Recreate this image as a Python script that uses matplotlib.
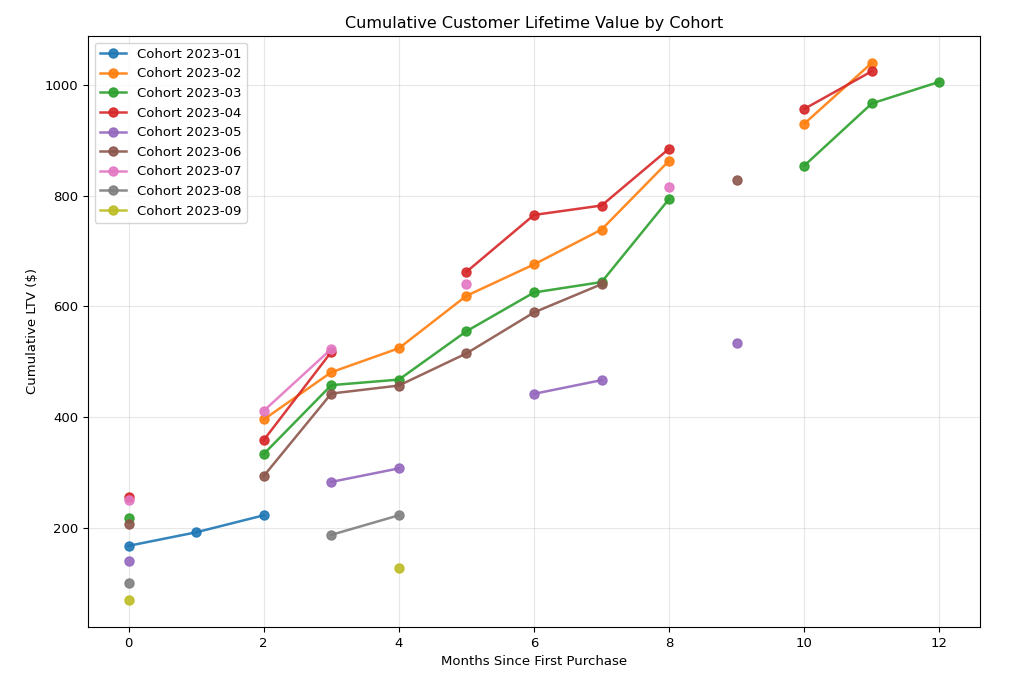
import numpy as np
import matplotlib
matplotlib.use("Agg")
import matplotlib.pyplot as plt

nan = np.nan
months = list(range(13))
cohorts = ["Cohort 2023-01", "Cohort 2023-02", "Cohort 2023-03", "Cohort 2023-04",
           "Cohort 2023-05", "Cohort 2023-06", "Cohort 2023-07", "Cohort 2023-08",
           "Cohort 2023-09"]

c01 = [167.6, 192, 222.7, nan, nan, nan, nan, nan, nan, nan, nan, nan, nan]
c02 = [nan, nan, 395.7, 481, 524.3, 619, 675.7, 738.7, 863, nan, 929.7, 1039.6, nan]
c03 = [218.6, nan, 333.3, 457.7, 467.7, 555, 625, 643.8, 793.9, nan, 854, 966.3, 1005.4]
c04 = [255, nan, 358.5, 517.7, nan, 662.3, 765, 782, 884.7, nan, 956.4, 1024.5, nan]
c05 = [140, nan, nan, 283, 307.4, nan, 442, 466.7, nan, 534.4, nan, nan, nan]
c06 = [207.7, nan, 293.7, 442.5, 457, 515, 589, 640, nan, 828.8, nan, nan, nan]
c07 = [250, nan, 411.3, 523, nan, 640, nan, nan, 816, nan, nan, nan, nan]
c08 = [101, nan, nan, 187.4, 222.7, nan, nan, nan, nan, nan, nan, nan, nan]
c09 = [69.6, nan, nan, nan, 127, nan, nan, nan, nan, nan, nan, nan, nan]
series = [c01, c02, c03, c04, c05, c06, c07, c08, c09]

fig = plt.figure(figsize=(10.24, 6.92), dpi=100)
ax = fig.add_axes([0.086, 0.094, 0.871, 0.854])
for name, vals in zip(cohorts, series):
    ax.plot(months, vals, marker="o", linewidth=1.8, markersize=6.5, alpha=0.9, label=name)

ax.set_title("Cumulative Customer Lifetime Value by Cohort", fontsize=11.5)
ax.set_xlabel("Months Since First Purchase", fontsize=9.5)
ax.set_ylabel("Cumulative LTV ($)", fontsize=9.5)
ax.tick_params(labelsize=9.5)
ax.grid(True, alpha=0.3)
ax.legend(loc="upper left", fontsize=9.5)
fig.savefig("out.png", dpi=100)
